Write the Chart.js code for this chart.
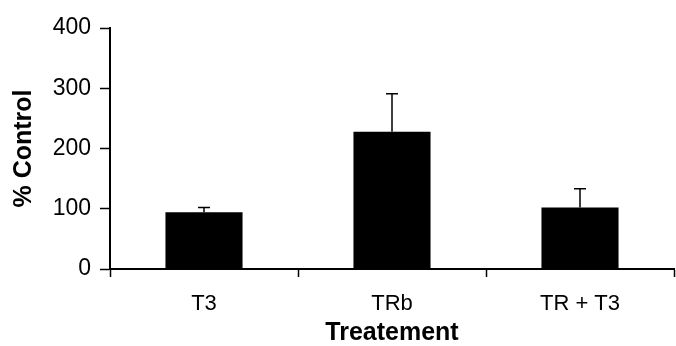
<!DOCTYPE html>
<html>
<head>
<meta charset="utf-8">
<script src="https://cdn.jsdelivr.net/npm/chart.js@4"></script>
<style>
  html, body { margin: 0; padding: 0; background: #fff; }
  #wrap { width: 676px; height: 346px; }
</style>
</head>
<body>
<div id="wrap"><canvas id="barGraph"></canvas></div>
<script>
  const categories = ['T3', 'TRb', 'TR + T3'];
  const percentControl = [94, 228, 102];
  const errorUp = [8, 63, 31];
  const yTicks = [0, 100, 200, 300, 400];

  // draws upper error bars with a cap, using the chart scales
  const errorBars = {
    id: 'errorBars',
    afterDatasetsDraw(chart) {
      const ctx = chart.ctx;
      const meta = chart.getDatasetMeta(0);
      const y = chart.scales.y;
      ctx.save();
      ctx.strokeStyle = '#000';
      ctx.lineWidth = 1.5;
      meta.data.forEach((bar, i) => {
        const top = y.getPixelForValue(percentControl[i] + errorUp[i]);
        const x = bar.x;
        ctx.beginPath();
        ctx.moveTo(x, bar.y);
        ctx.lineTo(x, top);
        ctx.moveTo(x - 6, top);
        ctx.lineTo(x + 6, top);
        ctx.stroke();
      });
      ctx.restore();
    }
  };

  const data = {
    labels: categories,
    datasets: [{
      data: percentControl,
      backgroundColor: '#000',
      borderWidth: 0,
      categoryPercentage: 1,
      barPercentage: 0.41
    }]
  };

  const config = {
    type: 'bar',
    data,
    options: {
      responsive: true,
      maintainAspectRatio: false,
      animation: false,
      layout: { padding: { top: 28, right: 2, left: 9, bottom: 0 } },
      plugins: {
        legend: { display: false },
        tooltip: { enabled: false }
      },
      scales: {
        x: {
          grid: {
            display: true,
            drawOnChartArea: false,
            drawTicks: true,
            tickLength: 8,
            tickWidth: 1.5,
            tickColor: '#000',
            offset: true
          },
          border: { color: '#000', width: 2 },
          ticks: {
            color: '#000',
            padding: 14,
            font: { family: 'Liberation Sans, Arial, sans-serif', size: 22 }
          },
          title: {
            display: true,
            text: 'Treatement',
            color: '#000',
            padding: { top: 0, bottom: -2 },
            font: { family: 'Liberation Sans, Arial, sans-serif', size: 25, weight: 'bold' }
          },
          afterFit(scale) { scale.height = 77; }
        },
        y: {
          min: 0,
          max: 400,
          afterBuildTicks(scale) { scale.ticks = yTicks.map(v => ({ value: v })); },
          grid: {
            display: true,
            drawOnChartArea: false,
            drawTicks: true,
            tickLength: 10,
            tickWidth: 1.5,
            tickColor: '#000'
          },
          border: { color: '#000', width: 2 },
          ticks: {
            color: '#000',
            padding: 9,
            font: { family: 'Liberation Sans, Arial, sans-serif', size: 23 }
          },
          title: {
            display: true,
            text: '% Control',
            color: '#000',
            padding: { top: 0, bottom: 0 },
            font: { family: 'Liberation Sans, Arial, sans-serif', size: 25, weight: 'bold' }
          },
          afterFit(scale) { scale.width = 101; }
        }
      }
    },
    plugins: [errorBars]
  };

  const myChart = new Chart(document.getElementById('barGraph'), config);
</script>
</body>
</html>
